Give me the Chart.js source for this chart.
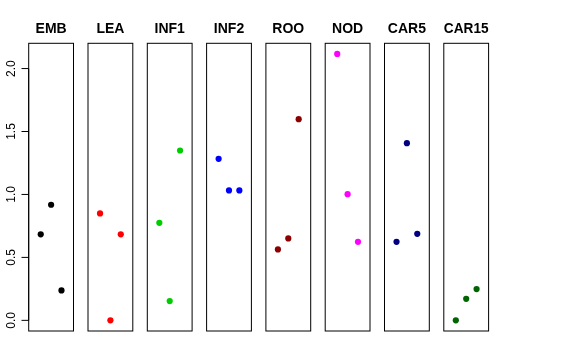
<!DOCTYPE html>
<html>
<head>
    <title>Tissue panels</title>
    <style>
        body {
            margin: 0;
            padding: 0;
            background-color: #ffffff;
        }
        #wrap {
            position: relative;
            width: 576px;
            height: 360px;
        }
        #wrap canvas {
            position: absolute;
            left: 0;
            top: 0;
        }
    </style>
    <script src="https://cdn.jsdelivr.net/npm/chart.js"></script>
</head>
<body>
<div id="wrap"></div>
<script>
    // panel names and colours
    const tissues = ['EMB', 'LEA', 'INF1', 'INF2', 'ROO', 'NOD', 'CAR5', 'CAR15'];
    const colors = ['#000000', '#FF0000', '#00CD00', '#0000FF', '#8B0000', '#FF00FF', '#000080', '#006400'];

    // three points per panel, at x = 1, 2, 3
    const xs = [1, 2, 3];
    const EMB = [0.683, 0.918, 0.238];
    const LEA = [0.849, 0.0, 0.683];
    const INF1 = [0.775, 0.153, 1.349];
    const INF2 = [1.283, 1.032, 1.032];
    const ROO = [0.563, 0.651, 1.598];
    const NOD = [2.116, 1.002, 0.624];
    const CAR5 = [0.624, 1.407, 0.687];
    const CAR15 = [0.0, 0.171, 0.248];
    const series = [EMB, LEA, INF1, INF2, ROO, NOD, CAR5, CAR15];

    // y axis ticks
    const yTicks = [0, 0.5, 1, 1.5, 2];
    const yTickLabels = ['0.0', '0.5', '1.0', '1.5', '2.0'];

    // R style 4% range extension
    const allY = series.flat();
    const yLo = Math.min(...allY), yHi = Math.max(...allY);
    const yPad = (yHi - yLo) * 0.04;
    const xLo = 0, xHi = 4, xPad = (xHi - xLo) * 0.04;

    // panel placement
    const W = 576, H = 360;
    const firstLeft = 28.7, step = 59.3, panelW = 44.8;

    // box around the plotting area
    const boxPlugin = {
        id: 'box',
        afterDraw(chart) {
            const a = chart.chartArea;
            const ctx = chart.ctx;
            ctx.save();
            ctx.strokeStyle = '#000';
            ctx.lineWidth = 1;
            ctx.strokeRect(a.left, a.top, a.right - a.left, a.bottom - a.top);
            ctx.restore();
        }
    };

    // left axis drawn only on the first panel
    const yAxisPlugin = {
        id: 'yaxisR',
        afterDraw(chart) {
            const y = chart.scales.y;
            const a = chart.chartArea;
            const ctx = chart.ctx;
            ctx.save();
            ctx.strokeStyle = '#000';
            ctx.fillStyle = '#000';
            ctx.lineWidth = 1;
            ctx.beginPath();
            ctx.moveTo(a.left, y.getPixelForValue(yTicks[0]));
            ctx.lineTo(a.left, y.getPixelForValue(yTicks[yTicks.length - 1]));
            yTicks.forEach(v => {
                const py = y.getPixelForValue(v);
                ctx.moveTo(a.left, py);
                ctx.lineTo(a.left - 7.2, py);
            });
            ctx.stroke();
            ctx.font = '12px "Liberation Sans", Arial, sans-serif';
            ctx.textAlign = 'center';
            ctx.textBaseline = 'alphabetic';
            yTicks.forEach((v, i) => {
                const py = y.getPixelForValue(v);
                ctx.save();
                ctx.translate(a.left - 13.8, py);
                ctx.rotate(-Math.PI / 2);
                ctx.fillText(yTickLabels[i], 0, 0);
                ctx.restore();
            });
            ctx.restore();
        }
    };

    const wrap = document.getElementById('wrap');

    tissues.forEach((name, i) => {
        const cv = document.createElement('canvas');
        cv.width = W;
        cv.height = H;
        wrap.appendChild(cv);

        const left = firstLeft + step * i;
        const plugins = [boxPlugin];
        if (i === 0) plugins.push(yAxisPlugin);

        new Chart(cv.getContext('2d'), {
            type: 'scatter',
            data: {
                datasets: [{
                    data: xs.map((x, k) => ({ x: x, y: series[i][k] })),
                    backgroundColor: colors[i],
                    borderColor: colors[i],
                    borderWidth: 0,
                    pointRadius: 3.1,
                    pointHoverRadius: 3.1
                }]
            },
            options: {
                responsive: false,
                animation: false,
                events: [],
                layout: {
                    padding: { left: left, right: W - left - panelW, top: 0, bottom: 29 }
                },
                scales: {
                    x: { type: 'linear', display: false, min: xLo - xPad, max: xHi + xPad },
                    y: { type: 'linear', display: false, min: yLo - yPad, max: yHi + yPad }
                },
                plugins: {
                    legend: { display: false },
                    tooltip: { enabled: false },
                    title: {
                        display: true,
                        text: name,
                        fullSize: false,
                        color: '#000',
                        font: { family: '"Liberation Sans", Arial, sans-serif', size: 14, weight: 'bold' },
                        padding: { top: 21, bottom: 5.5 }
                    }
                }
            },
            plugins: plugins
        });
    });
</script>
</body>
</html>
